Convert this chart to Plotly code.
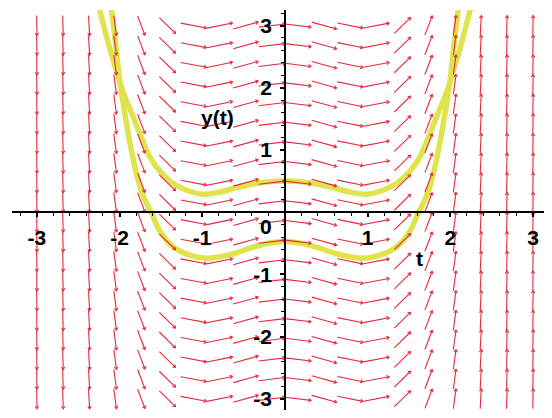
import math
import plotly.graph_objects as go

# ---------------- data ----------------
# direction-field grid (20 x 20)
t_cols = [-3.0, -2.684, -2.368, -2.053, -1.737, -1.421, -1.105, -0.789, -0.474, -0.158,
          0.158, 0.474, 0.789, 1.105, 1.421, 1.737, 2.053, 2.368, 2.684, 3.0]
y_rows = [-3.0, -2.684, -2.368, -2.053, -1.737, -1.421, -1.105, -0.789, -0.474, -0.158,
          0.158, 0.474, 0.789, 1.105, 1.421, 1.737, 2.053, 2.368, 2.684, 3.0]
# slope dy/dt read for each column
col_slopes = [-80, -50, -25, -10, -3.5, -1.3, -0.25, 0.27, 0.37, 0.16,
              -0.16, -0.37, -0.27, 0.25, 1.3, 3.5, 10, 25, 50, 80]

# solution curve through y(0)=0.5
upper_t = [-2.25, -2.1, -1.96, -1.84, -1.72, -1.63, -1.5, -1.35, -1.2, -1.0, -0.8, -0.6, -0.4, -0.2,
           0.0, 0.2, 0.4, 0.6, 0.8, 1.0, 1.2, 1.35, 1.5, 1.63, 1.72, 1.84, 1.96, 2.1, 2.25]
upper_y = [3.3, 2.55, 1.95, 1.55, 1.15, 0.88, 0.64, 0.46, 0.36, 0.29, 0.32, 0.39, 0.45, 0.49,
           0.5, 0.49, 0.45, 0.39, 0.32, 0.29, 0.36, 0.46, 0.64, 0.88, 1.15, 1.55, 1.95, 2.55, 3.3]
# solution curve through y(0)=-0.5
lower_t = [-2.1, -2.05, -2.0, -1.95, -1.9, -1.85, -1.8, -1.75, -1.69, -1.61, -1.51, -1.35, -1.15,
           -0.95, -0.8, -0.6, -0.4, -0.2, 0.0, 0.2, 0.4, 0.6, 0.8, 0.95, 1.15, 1.35, 1.51, 1.61, 1.69,
           1.75, 1.8, 1.85, 1.9, 1.95, 2.0, 2.05, 2.1]
lower_y = [3.3, 2.75, 2.15, 1.7, 1.3, 0.95, 0.65, 0.4, 0.19, -0.02, -0.31, -0.56, -0.69,
           -0.74, -0.72, -0.66, -0.57, -0.5, -0.47, -0.5, -0.57, -0.66, -0.72, -0.74, -0.69, -0.56,
           -0.31, -0.02, 0.19, 0.4, 0.65, 0.95, 1.3, 1.7, 2.15, 2.75, 3.3]

x_ticks = [-3, -2, -1, 1, 2, 3]
x_ticktext = ["-3", "-2", "-1", "1", "2", "3"]
y_ticks = [-3, -2, -1, 1, 2, 3]
y_ticktext = ["-3", "-2", "-1", "1", "2", "3"]

# ---------------- layout geometry ----------------
# the page body has an 8px default margin, so the figure is sized to fit inside it
T_MIN, T_MAX = -3.3, 3.23
Y_MIN, Y_MAX = -3.18, 3.25
W, H = 544, 410
ML, MR, MT, MB = 4, 0, 2, 8
kx = (W - ML - MR) / (T_MAX - T_MIN)   # px per t unit
ky = (H - MT - MB) / (Y_MAX - Y_MIN)   # px per y unit

ARROW_LEN = 0.32     # data units
HEAD_PX = 3.0
HEAD_ANG = math.radians(35)

ax_x, ax_y = [], []
for t, s in zip(t_cols, col_slopes):
    n = math.sqrt(1 + s * s)
    dx, dy = ARROW_LEN / n, ARROW_LEN * s / n
    px, py = dx * kx, dy * ky
    pl = math.hypot(px, py)
    ux, uy = px / pl, py / pl
    for y in y_rows:
        x0, y0 = t - dx / 2, y - dy / 2
        x1, y1 = t + dx / 2, y + dy / 2
        ax_x += [x0, x1, None]
        ax_y += [y0, y1, None]
        barbs = []
        for a in (HEAD_ANG, -HEAD_ANG):
            bx = -ux * math.cos(a) + uy * math.sin(a)
            by = -ux * math.sin(a) - uy * math.cos(a)
            barbs.append((x1 + bx * HEAD_PX / kx, y1 + by * HEAD_PX / ky))
        ax_x += [barbs[0][0], x1, barbs[1][0], None]
        ax_y += [barbs[0][1], y1, barbs[1][1], None]

YELLOW = "#dfe34c"
RED = "#e6283c"

fig = go.Figure()
fig.add_trace(go.Scatter(x=upper_t, y=upper_y, mode="lines", line=dict(color=YELLOW, width=5.5, shape="spline"),
                         hoverinfo="skip", showlegend=False))
fig.add_trace(go.Scatter(x=lower_t, y=lower_y, mode="lines", line=dict(color=YELLOW, width=5.5, shape="spline"),
                         hoverinfo="skip", showlegend=False))
fig.add_trace(go.Scatter(x=ax_x, y=ax_y, mode="lines", line=dict(color=RED, width=1.1),
                         hoverinfo="skip", showlegend=False))

tickfont = dict(family="Liberation Sans, Arial, sans-serif", size=21, color="black", weight=700)

fig.update_layout(
    width=W, height=H,
    margin=dict(l=ML, r=MR, t=MT, b=MB, autoexpand=False),
    paper_bgcolor="white", plot_bgcolor="white",
    xaxis=dict(range=[T_MIN, T_MAX], anchor="free", position=(0 - Y_MIN) / (Y_MAX - Y_MIN),
               automargin=False,
               showgrid=False, zeroline=False, showline=True, linecolor="black", linewidth=1.6,
               ticks="outside", ticklen=4, tickwidth=1.5, tickcolor="black",
               tickmode="array", tickvals=x_ticks, ticktext=x_ticktext, tickfont=tickfont,
               ticklabelstandoff=3,
               minor=dict(tickmode="linear", tick0=0, dtick=0.2, ticks="outside", ticklen=3,
                          tickwidth=1.2, tickcolor="black")),
    yaxis=dict(range=[Y_MIN, Y_MAX], anchor="free", position=(0 - T_MIN) / (T_MAX - T_MIN),
               automargin=False,
               showgrid=False, zeroline=False, showline=True, linecolor="black", linewidth=1.6,
               ticks="outside", ticklen=4, tickwidth=1.5, tickcolor="black",
               tickmode="array", tickvals=y_ticks, ticktext=y_ticktext, tickfont=tickfont,
               ticklabelstandoff=4,
               minor=dict(tickmode="linear", tick0=0, dtick=0.2, ticks="outside", ticklen=3,
                          tickwidth=1.2, tickcolor="black")),
    annotations=[
        dict(x=0, y=0, xref="x", yref="y", text="0", showarrow=False, xshift=-19, yshift=-14,
             font=tickfont),
        dict(x=1.63, y=-0.74, xref="x", yref="y", text="t", showarrow=False, font=tickfont),
        dict(x=-0.82, y=1.53, xref="x", yref="y", text="y(t)", showarrow=False, font=tickfont),
    ],
)

fig.write_html("out.html")
